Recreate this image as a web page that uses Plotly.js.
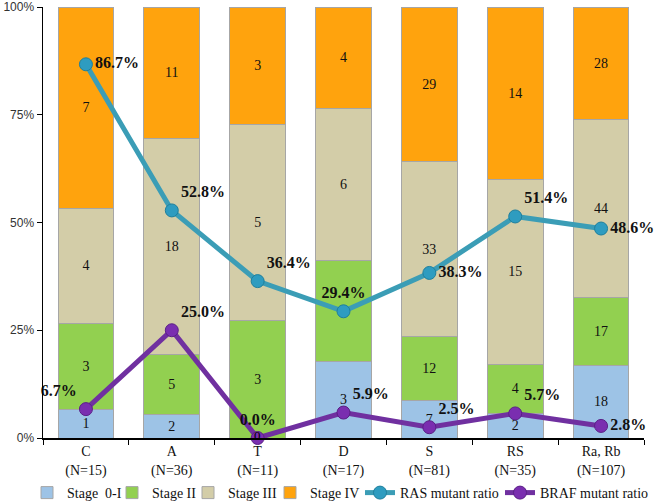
<!DOCTYPE html>
<html>
<head>
<meta charset="utf-8">
<script src="https://cdn.plot.ly/plotly-3.0.1.min.js"></script>
<style>html,body{margin:0;padding:0;background:#fff;}#chart{width:654px;height:503px;}</style>
</head>
<body>
<div id="chart"></div>
<script>
const categories = ["C<br>(N=15)", "A<br>(N=36)", "T<br>(N=11)", "D<br>(N=17)", "S<br>(N=81)", "RS<br>(N=35)", "Ra, Rb<br>(N=107)"];
const stage0I  = [1, 2, 0, 3, 7, 2, 18];
const stageII  = [3, 5, 3, 4, 12, 4, 17];
const stageIII = [4, 18, 5, 6, 33, 15, 44];
const stageIV  = [7, 11, 3, 4, 29, 14, 28];
const rasRatio  = [86.7, 52.8, 36.4, 29.4, 38.3, 51.4, 48.6];
const brafRatio = [6.7, 25.0, 0.0, 5.9, 2.5, 5.7, 2.8];
const seriesNames = ["Stage\u00a0 0-I", "Stage II", "Stage III", "Stage IV"];

const totals = categories.map((c, i) => stage0I[i] + stageII[i] + stageIII[i] + stageIV[i]);
const pct = arr => arr.map((v, i) => v / totals[i] * 100);

const stageData = [stage0I, stageII, stageIII, stageIV];
const stageColors = ["#9DC3E6", "#92D050", "#D3CDA8", "#FFA30D"];
const serif = "Liberation Serif, Times New Roman, serif";
const legendIds = ["legend", "legend2", "legend3", "legend4", "legend5", "legend6"];
const legendLeftPx = [27, 112, 188, 270, 360, 500];

const traces = stageData.map((arr, k) => ({
  type: "bar",
  name: seriesNames[k],
  legend: legendIds[k],
  x: categories,
  y: pct(arr),
  text: arr.map(v => v === 0 ? "" : String(v)),
  textposition: "inside",
  insidetextanchor: "middle",
  textangle: 0,
  textfont: {family: serif, size: 14, color: "#111"},
  marker: {color: stageColors[k], line: {color: "#A6A6A6", width: 1}},
  width: 0.65,
  hoverinfo: "skip"
}));

const rasPos = ["middle right", "top right", "top right", "top center", "middle right", "top right", "middle right"];
const brafPos = ["top left", "top right", "top center", "top right", "top right", "top right", "middle right"];

traces.push({
  type: "scatter",
  mode: "lines+markers+text",
  name: "RAS mutant ratio",
  legend: legendIds[4],
  x: categories,
  y: rasRatio,
  text: rasRatio.map(v => v.toFixed(1) + "%"),
  textposition: rasPos,
  textfont: {family: serif, size: 16, color: "#111", weight: "bold"},
  line: {color: "#3B9DB6", width: 5},
  marker: {color: "#2E9CC0", size: 13, line: {color: "#1F7F9C", width: 1}},
  cliponaxis: false
});
traces.push({
  type: "scatter",
  mode: "lines+markers+text",
  name: "BRAF mutant ratio",
  legend: legendIds[5],
  x: categories,
  y: brafRatio,
  text: brafRatio.map(v => v.toFixed(1) + "%"),
  textposition: brafPos,
  textfont: {family: serif, size: 16, color: "#111", weight: "bold"},
  line: {color: "#7030A0", width: 5},
  marker: {color: "#7A2EB0", size: 13, line: {color: "#5A1F86", width: 1}},
  cliponaxis: false
});

// zero-count labels for Stage 0-I (the empty segment sits at 0%)
const zeroAnnotations = categories
  .map((c, i) => ({c, v: stage0I[i]}))
  .filter(d => d.v === 0)
  .map(d => ({
    x: d.c, y: d.v, xref: "x", yref: "y", text: String(d.v), showarrow: false,
    yshift: 3,
    font: {family: serif, size: 13, color: "#000"}
  }));

const layout = {
  width: 654, height: 503,
  margin: {l: 43, r: 10, t: 7, b: 65},
  barmode: "stack",
  paper_bgcolor: "#fff",
  plot_bgcolor: "#fff",
  font: {family: serif, size: 14, color: "#111"},
  showlegend: true,
  annotations: zeroAnnotations,
  xaxis: {
    type: "category",
    range: [-0.5, 6.5],
    showline: true, linecolor: "#000", linewidth: 1.5,
    ticks: "outside", tickson: "boundaries", ticklen: 5, tickcolor: "#000",
    tickfont: {family: serif, size: 14, color: "#111"},
    showgrid: false, zeroline: false
  },
  yaxis: {
    range: [0, 100],
    tickvals: [0, 25, 50, 75, 100],
    ticktext: ["0%", "25%", "50%", "75%", "100%"],
    showline: true, linecolor: "#000", linewidth: 1.5,
    ticks: "outside", ticklen: 5, tickcolor: "#000",
    tickfont: {family: "Liberation Sans, Arial, sans-serif", size: 12, color: "#333"},
    showgrid: false, zeroline: false
  }
};
legendIds.forEach((id, k) => {
  layout[id] = {
    orientation: "h", xref: "container", yref: "container",
    x: legendLeftPx[k] / 654, xanchor: "left",
    y: 10 / 503, yanchor: "middle",
    font: {family: serif, size: 14, color: "#111"},
    itemwidth: 30, bgcolor: "rgba(0,0,0,0)"
  };
});

Plotly.newPlot("chart", traces, layout, {displayModeBar: false, staticPlot: true});
</script>
</body>
</html>
